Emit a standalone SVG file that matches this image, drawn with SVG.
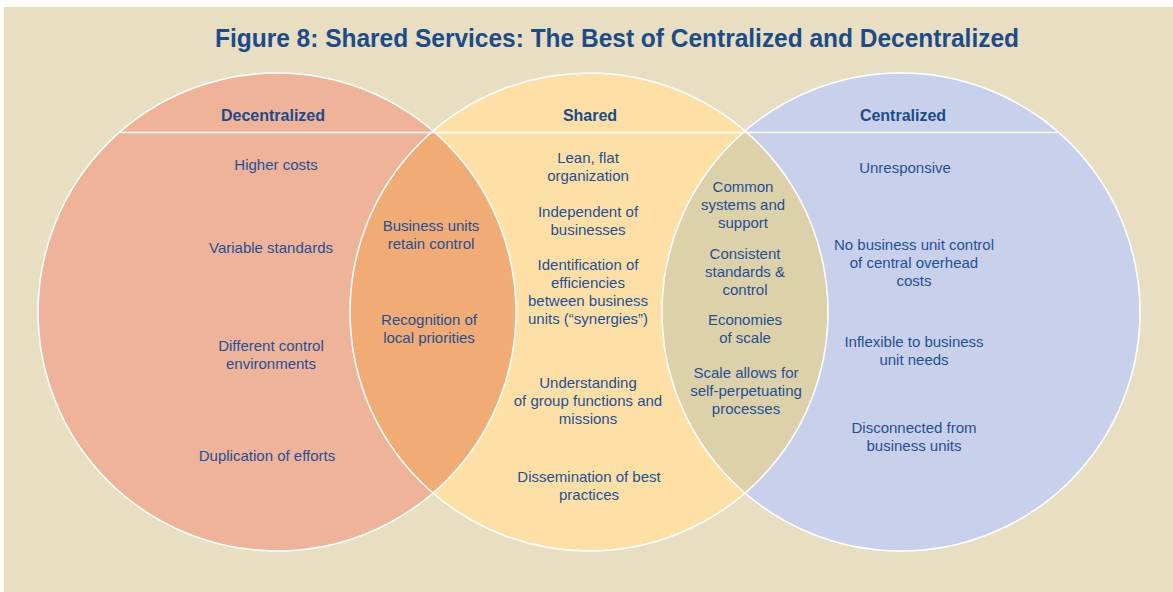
<svg xmlns="http://www.w3.org/2000/svg" width="1173" height="592" viewBox="0 0 1173 592">
<style>
.t{font-family:"Liberation Sans",Arial,sans-serif;font-size:15px;fill:#1F5096;text-anchor:middle}
.h{font-family:"Liberation Sans",Arial,sans-serif;font-size:16px;font-weight:bold;fill:#1A4C8B;text-anchor:middle}
.title{font-family:"Liberation Sans",Arial,sans-serif;font-size:25px;font-weight:bold;fill:#1A4C8B;text-anchor:middle}
.ring{fill:none;stroke:#FFFFFF;stroke-width:1.6}
</style>
<rect x="0" y="0" width="1173" height="592" fill="#FFFFFF"/>
<rect x="4" y="7" width="1169" height="585" fill="#E8DEC2"/>
<text class="title" x="617" y="47" textLength="804" lengthAdjust="spacingAndGlyphs">Figure 8: Shared Services: The Best of Centralized and Decentralized</text>

<g id="decentralized">
<circle cx="277" cy="312" r="239" fill="#EFB39A"/>
</g>
<g id="shared">
<circle cx="589" cy="312" r="239" fill="#FEE0A6"/>
</g>
<g id="centralized">
<circle cx="901" cy="312" r="239" fill="#C8D0EB"/>
</g>
<g id="overlap-left">
<path d="M433,130.93 A239,239 0 0,1 433,493.07 A239,239 0 0,1 433,130.93 Z" fill="#F0AC74"/>
</g>
<g id="overlap-right">
<path d="M745,130.93 A239,239 0 0,1 745,493.07 A239,239 0 0,1 745,130.93 Z" fill="#DDD1A9"/>
</g>
<g id="outlines">
<circle class="ring" cx="277" cy="312" r="239"/>
<circle class="ring" cx="589" cy="312" r="239"/>
<circle class="ring" cx="901" cy="312" r="239"/>
<line x1="120" y1="132.5" x2="1058" y2="132.5" stroke="#FFFFFF" stroke-width="1.6"/>
</g>

<g id="headers">
<text class="h" x="273" y="121">Decentralized</text>
<text class="h" x="590" y="121">Shared</text>
<text class="h" x="903" y="121">Centralized</text>
</g>

<g id="decentralized-text">
<text class="t" x="276" y="170">Higher costs</text>
<text class="t" x="271" y="253">Variable standards</text>
<text class="t" x="271" y="351">Different control</text>
<text class="t" x="271" y="369">environments</text>
<text class="t" x="267" y="461">Duplication of efforts</text>
</g>

<g id="overlap-left-text">
<text class="t" x="431" y="231">Business units</text>
<text class="t" x="431" y="249">retain control</text>
<text class="t" x="429" y="325">Recognition of</text>
<text class="t" x="429" y="343">local priorities</text>
</g>

<g id="shared-text">
<text class="t" x="588" y="163">Lean, flat</text>
<text class="t" x="588" y="181">organization</text>
<text class="t" x="588" y="217">Independent of</text>
<text class="t" x="588" y="235">businesses</text>
<text class="t" x="588" y="270">Identification of</text>
<text class="t" x="588" y="288">efficiencies</text>
<text class="t" x="588" y="306">between business</text>
<text class="t" x="588" y="324">units (“synergies”)</text>
<text class="t" x="588" y="388">Understanding</text>
<text class="t" x="588" y="406">of group functions and</text>
<text class="t" x="588" y="424">missions</text>
<text class="t" x="589" y="482">Dissemination of best</text>
<text class="t" x="589" y="500">practices</text>
</g>

<g id="overlap-right-text">
<text class="t" x="743" y="192">Common</text>
<text class="t" x="743" y="210">systems and</text>
<text class="t" x="743" y="228">support</text>
<text class="t" x="745" y="259">Consistent</text>
<text class="t" x="745" y="277">standards &amp;</text>
<text class="t" x="745" y="295">control</text>
<text class="t" x="745" y="325">Economies</text>
<text class="t" x="745" y="343">of scale</text>
<text class="t" x="746" y="378">Scale allows for</text>
<text class="t" x="746" y="396">self-perpetuating</text>
<text class="t" x="746" y="414">processes</text>
</g>

<g id="centralized-text">
<text class="t" x="905" y="173">Unresponsive</text>
<text class="t" x="914" y="250">No business unit control</text>
<text class="t" x="914" y="268">of central overhead</text>
<text class="t" x="914" y="286">costs</text>
<text class="t" x="914" y="347">Inflexible to business</text>
<text class="t" x="914" y="365">unit needs</text>
<text class="t" x="914" y="433">Disconnected from</text>
<text class="t" x="914" y="451">business units</text>
</g>
</svg>
